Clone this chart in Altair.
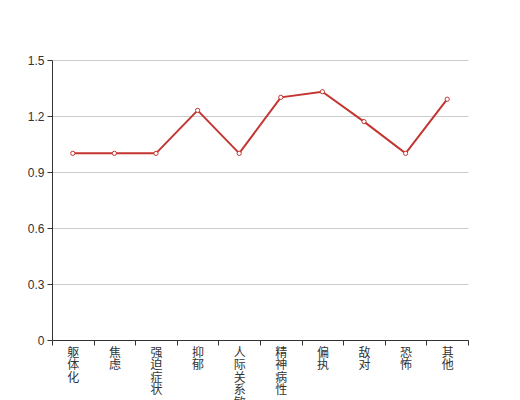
import altair as alt
import pandas as pd

categories = ["躯体化", "焦虑", "强迫症状", "抑郁", "人际关系敏感", "精神病性", "偏执", "敌对", "恐怖", "其他"]
values = [1.0, 1.0, 1.0, 1.23, 1.0, 1.30, 1.33, 1.17, 1.0, 1.29]
y_ticks = [0, 0.3, 0.6, 0.9, 1.2, 1.5]

df = pd.DataFrame({"cat": categories, "val": values})

x = alt.X("cat:N", sort=categories, title=None,
          scale=alt.Scale(paddingInner=0, paddingOuter=0),
          axis=alt.Axis(labelAngle=0, labelExpr="split(datum.label, '')",
                        labelFont="Noto Sans CJK SC", labelFontSize=12, labelColor="#333",
                        labelLineHeight=12.6, labelBaseline="top", labelPadding=2,
                        tickBand="extent", tickSize=5, tickColor="#333", domainColor="#333",
                        labelOverlap=False, labelBound=False))
y = alt.Y("val:Q", title=None,
          scale=alt.Scale(domain=[0, 1.5], nice=False, zero=True),
          axis=alt.Axis(values=y_ticks,
                        labelExpr="datum.value == 0 ? '0' : format(datum.value, '.1f')",
                        labelFontSize=12, labelColor="#333", labelPadding=3,
                        tickSize=5, tickColor="#333", domainColor="#333",
                        grid=True, gridColor="#ccc"))

line = alt.Chart(df).mark_line(color="#c23531", strokeWidth=2).encode(x=x, y=y)
points = alt.Chart(df).mark_point(filled=True, fill="white", stroke="#c23531",
                                  strokeWidth=1, size=18, opacity=1).encode(x=x, y=y)

chart = (line + points).properties(
    width=416, height=280,
    autosize=alt.AutoSizeParams(type="none"),
    padding={"left": 44, "top": 52, "right": 20, "bottom": 70},
).configure_view(stroke=None).configure_axisX(grid=False)

chart.save("out.html", embed_options={"renderer": "svg", "actions": False})
